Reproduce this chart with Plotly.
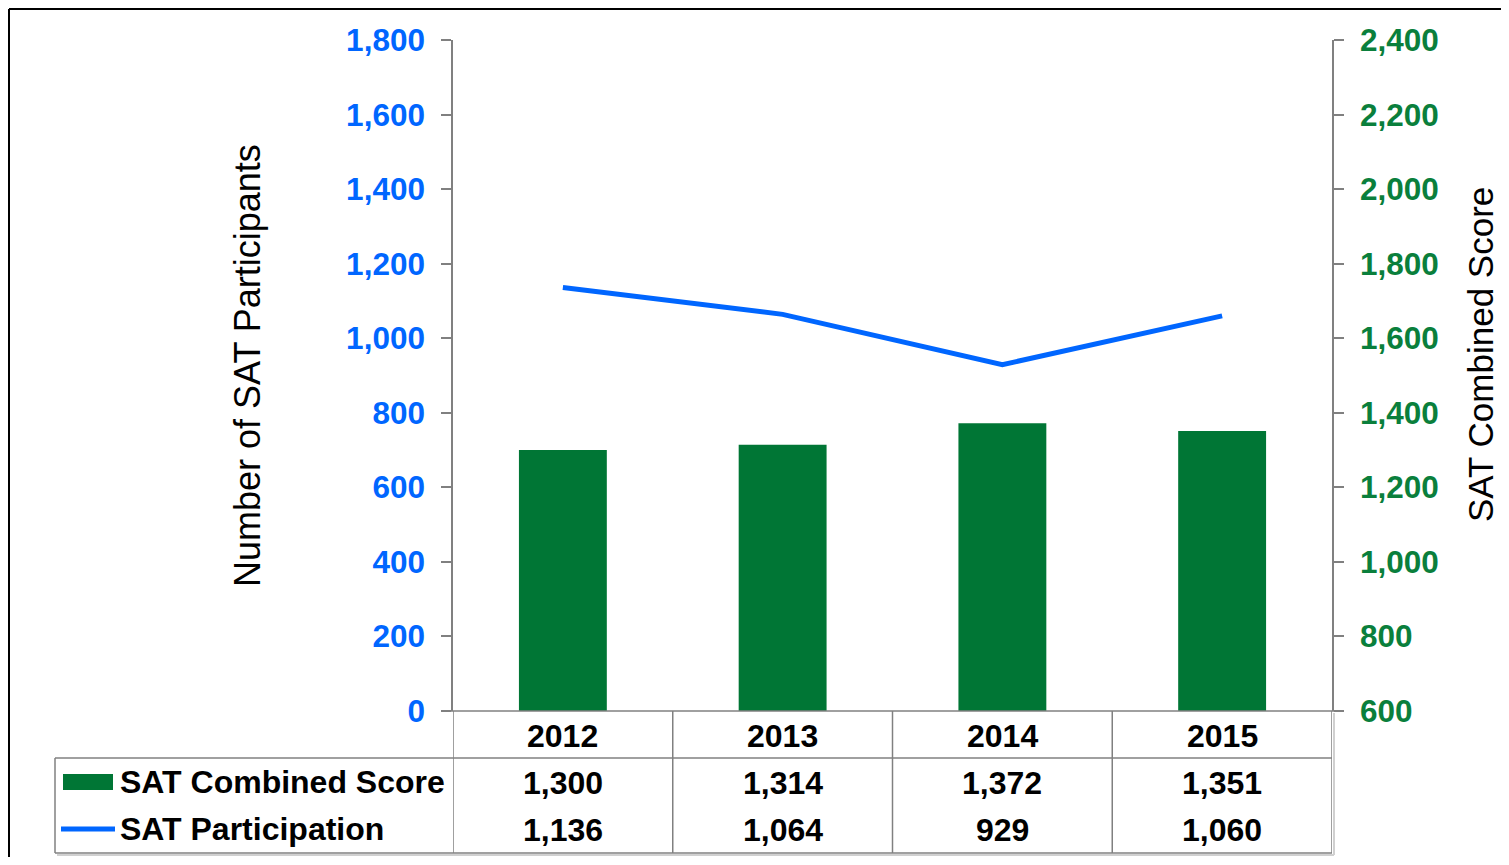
import plotly.graph_objects as go

years = ["2012", "2013", "2014", "2015"]
sat_score = [1300, 1314, 1372, 1351]
sat_participation = [1136, 1064, 929, 1060]
left_ticks = [0, 200, 400, 600, 800, 1000, 1200, 1400, 1600, 1800]
right_ticks = [600, 800, 1000, 1200, 1400, 1600, 1800, 2000, 2200, 2400]

OFF = 8  # page body margin
W, H = 1509 - 2 * OFF, 865 - 2 * OFF
# target page-pixel positions of the plot area
L, R, T, B = 453, 1332, 40, 711
PW, PH = R - L, B - T

def px_x(p):
    return (p - L) / PW

def px_y(p):
    return (B - p) / PH

BLUE = "#0066FF"
GREEN = "#007635"
GREEN_TXT = "#0A7F3C"
GRAY = "#808080"
FONT = "Liberation Sans, Arial, sans-serif"

fig = go.Figure()
fig.add_trace(go.Bar(x=years, y=sat_score, name="SAT Combined Score",
                     marker=dict(color=GREEN, line=dict(width=0)), width=0.4, yaxis="y"))
fig.add_trace(go.Scatter(x=years, y=sat_participation, name="SAT Participation", mode="lines",
                         line=dict(color=BLUE, width=5), yaxis="y2"))

axis_common = dict(showgrid=False, zeroline=False, showline=True, linecolor=GRAY, linewidth=1.5,
                   ticks="outside", ticklen=10, tickcolor=GRAY, tickwidth=1.5, tickformat=",d",
                   ticklabelstandoff=10)

fig.update_layout(
    width=W, height=H,
    margin=dict(l=L - OFF, r=W - (R - OFF), t=T - OFF, b=H - (B - OFF), pad=0),
    paper_bgcolor="white", plot_bgcolor="white",
    showlegend=False,
    xaxis=dict(type="category", range=[-0.5, 3.5], showticklabels=False, showgrid=False,
               zeroline=False, showline=False, ticks=""),
    yaxis=dict(side="right", range=[600, 2400], tickvals=right_ticks,
               tickfont=dict(family=FONT, size=31.5, color=GREEN_TXT, weight="bold"), **axis_common),
    yaxis2=dict(side="left", overlaying="y", range=[0, 1800], tickvals=left_ticks,
                tickfont=dict(family=FONT, size=31.5, color=BLUE, weight="bold"), **axis_common),
)

shapes = []
def line(x0, y0, x1, y1, xref="paper", color=GRAY, width=1.5):
    shapes.append(dict(type="line", xref=xref, yref="paper", x0=x0, y0=y0, x1=x1, y1=y1,
                       line=dict(color=color, width=width), layer="above"))

# outer border (left and top edges visible)
line(px_x(OFF + 1), px_y(OFF + 1), px_x(1600), px_y(OFF + 1), color="black", width=2)
line(px_x(OFF + 1), px_y(OFF + 1), px_x(OFF + 1), px_y(900), color="black", width=2)

# table shadow
line(px_x(57), px_y(855), px_x(1334), px_y(855), color="#D0D0D0", width=2)
line(px_x(1334), px_y(713), px_x(1334), px_y(855), color="#D0D0D0", width=2)

# horizontal axis line / table top
line(px_x(443), 0, px_x(1342), 0)
# table horizontal lines
line(px_x(55), px_y(758), px_x(R), px_y(758))
line(px_x(55), px_y(853), px_x(R), px_y(853))
# table left edge of legend cell
line(px_x(55), px_y(758), px_x(55), px_y(853))
# column boundaries
n = len(years)
for i in range(n + 1):
    shapes.append(dict(type="line", xref="x", yref="paper", x0=i - 0.5, x1=i - 0.5,
                       y0=0, y1=px_y(853), line=dict(color=GRAY, width=1.5)))

# legend symbols
shapes.append(dict(type="rect", xref="paper", yref="paper", x0=px_x(63), x1=px_x(113),
                   y0=px_y(790), y1=px_y(774), fillcolor=GREEN, line=dict(width=0)))
line(px_x(61), px_y(829), px_x(115), px_y(829), color=BLUE, width=5)

fig.update_layout(shapes=shapes)

ann = []
tf = dict(family=FONT, size=32, color="black", weight="bold")
for i, yr in enumerate(years):
    ann.append(dict(x=i, y=0, xref="x", yref="paper", text=yr, showarrow=False,
                    yanchor="middle", yshift=-25, font=tf))
    ann.append(dict(x=i, y=0, xref="x", yref="paper", text=f"{sat_score[i]:,}", showarrow=False,
                    yanchor="middle", yshift=-72, font=tf))
    ann.append(dict(x=i, y=0, xref="x", yref="paper", text=f"{sat_participation[i]:,}", showarrow=False,
                    yanchor="middle", yshift=-119, font=tf))

ann.append(dict(x=px_x(118), y=px_y(782), xref="paper", yref="paper", text="SAT Combined Score",
                showarrow=False, xanchor="left", yanchor="middle", font=tf))
ann.append(dict(x=px_x(118), y=px_y(829), xref="paper", yref="paper", text="SAT Participation",
                showarrow=False, xanchor="left", yanchor="middle", font=tf))

ann.append(dict(x=px_x(247), y=px_y(366), xref="paper", yref="paper", text="Number of SAT Participants",
                showarrow=False, textangle=-90, xanchor="center", yanchor="middle",
                font=dict(family=FONT, size=36, color="black")))
ann.append(dict(x=px_x(1480), y=px_y(355), xref="paper", yref="paper", text="SAT Combined Score",
                showarrow=False, textangle=-90, xanchor="center", yanchor="middle",
                font=dict(family=FONT, size=35, color="black")))

fig.update_layout(annotations=ann)

fig.write_html("out.html")
